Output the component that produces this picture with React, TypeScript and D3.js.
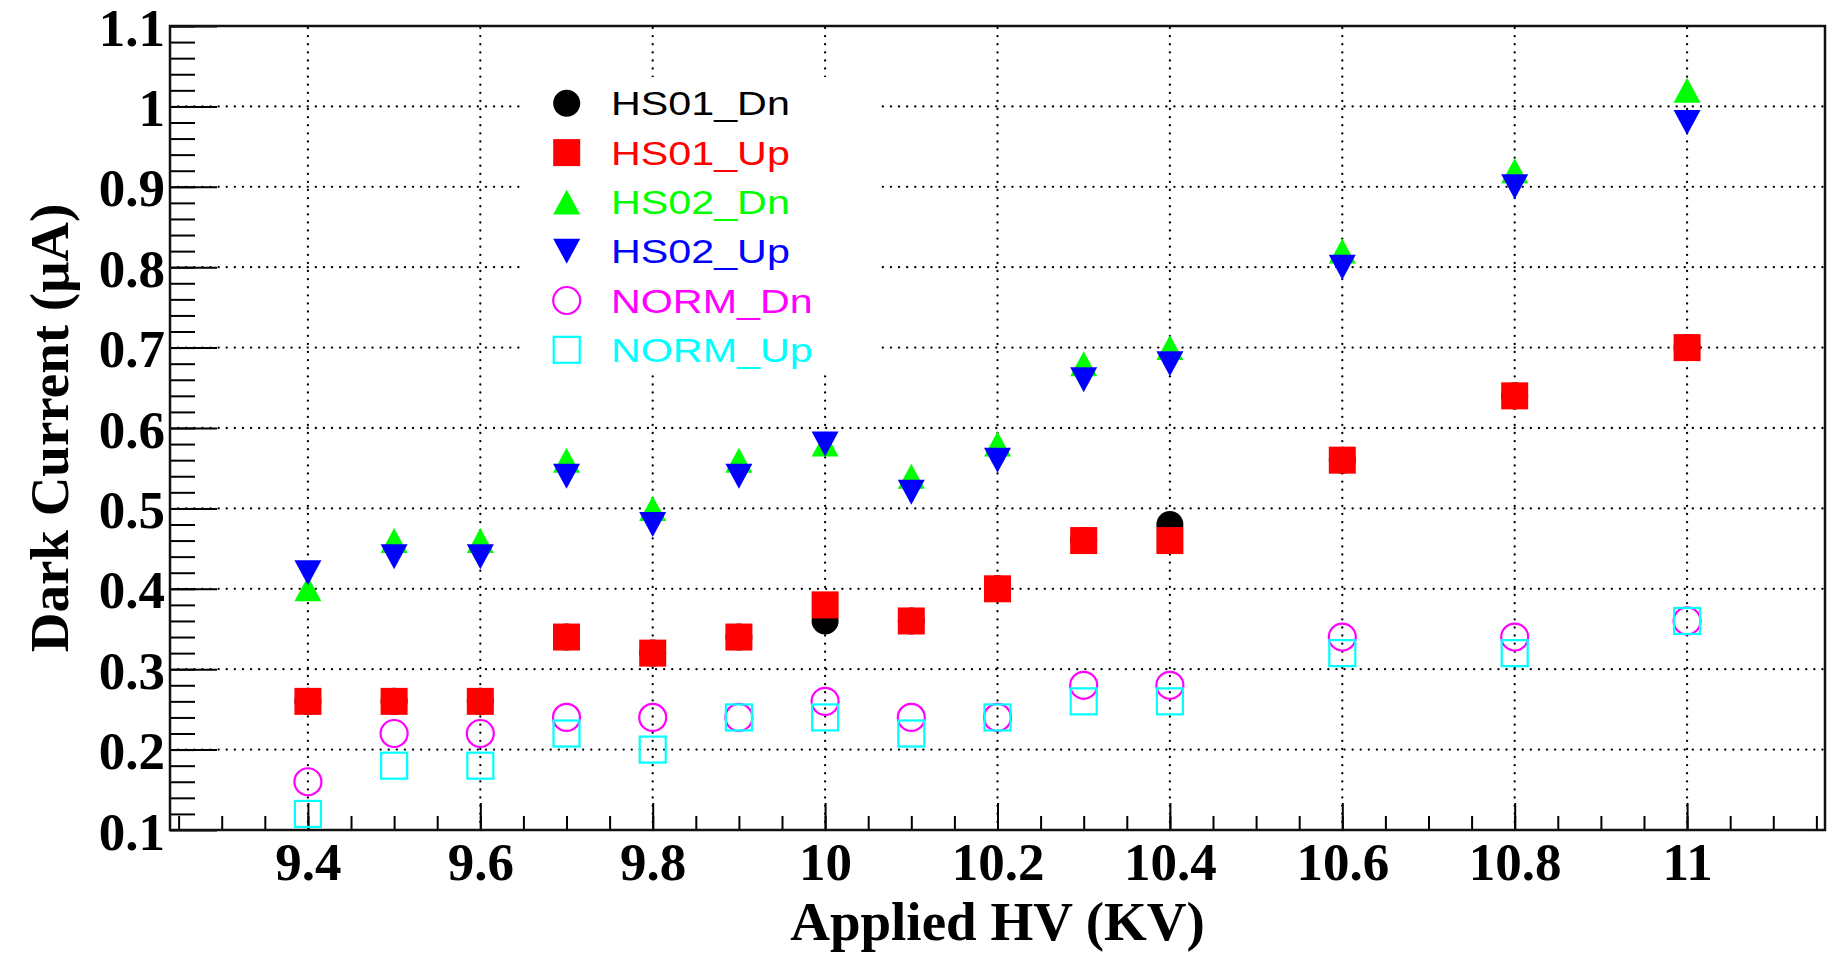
import { useEffect, useRef } from 'react'
import * as d3 from 'd3'

// Applied HV (KV) for every measured point
const hv = [9.4, 9.5, 9.6, 9.7, 9.8, 9.9, 10, 10.1, 10.2, 10.3, 10.4, 10.6, 10.8, 11]

// dark current (uA)
const hs01Dn = [0.26, 0.26, 0.26, 0.34, 0.32, 0.34, 0.36, 0.36, 0.40, 0.46, 0.48, 0.56, 0.64, 0.70]
const hs01Up = [0.26, 0.26, 0.26, 0.34, 0.32, 0.34, 0.38, 0.36, 0.40, 0.46, 0.46, 0.56, 0.64, 0.70]
const hs02Dn = [0.40, 0.46, 0.46, 0.56, 0.50, 0.56, 0.58, 0.54, 0.58, 0.68, 0.70, 0.82, 0.92, 1.02]
const hs02Up = [0.42, 0.44, 0.44, 0.54, 0.48, 0.54, 0.58, 0.52, 0.56, 0.66, 0.68, 0.80, 0.90, 0.98]
const normDn = [0.16, 0.22, 0.22, 0.24, 0.24, 0.24, 0.26, 0.24, 0.24, 0.28, 0.28, 0.34, 0.34, 0.36]
const normUp = [0.12, 0.18, 0.18, 0.22, 0.20, 0.24, 0.24, 0.22, 0.24, 0.26, 0.26, 0.32, 0.32, 0.36]

const xTicks = [9.4, 9.6, 9.8, 10, 10.2, 10.4, 10.6, 10.8, 11]
const yTicks = [0.1, 0.2, 0.3, 0.4, 0.5, 0.6, 0.7, 0.8, 0.9, 1, 1.1]

const xTitle = 'Applied HV (KV)'
const yTitle = 'Dark Current (\u03BCA)'

const series = [
  { name: 'HS01_Dn', values: hs01Dn, color: '#000000', shape: 'dot' },
  { name: 'HS01_Up', values: hs01Up, color: '#ff0000', shape: 'square' },
  { name: 'HS02_Dn', values: hs02Dn, color: '#00ff00', shape: 'triUp' },
  { name: 'HS02_Up', values: hs02Up, color: '#0000ff', shape: 'triDown' },
  { name: 'NORM_Dn', values: normDn, color: '#ff00ff', shape: 'ring' },
  { name: 'NORM_Up', values: normUp, color: '#00ffff', shape: 'box' },
]

const W = 1832
const H = 953
const SERIF = '"Liberation Serif", "Times New Roman", serif'
const SANS = '"Liberation Sans", Arial, sans-serif'

function marker(g: any, shape: string, color: string, cx: number, cy: number) {
  const s = 13.5
  if (shape === 'dot') {
    g.append('circle').attr('cx', cx).attr('cy', cy).attr('r', s).attr('fill', color)
  } else if (shape === 'square') {
    g.append('rect').attr('x', cx - s).attr('y', cy - s).attr('width', 2 * s).attr('height', 2 * s)
      .attr('fill', color)
  } else if (shape === 'triUp' || shape === 'triDown') {
    const d = shape === 'triUp' ? 1 : -1
    const h = 12.5
    g.append('path')
      .attr('d', `M${cx - s},${cy + d * h}L${cx + s},${cy + d * h}L${cx},${cy - d * h}Z`)
      .attr('fill', color)
  } else if (shape === 'ring') {
    g.append('circle').attr('cx', cx).attr('cy', cy).attr('r', 13.5)
      .attr('fill', 'none').attr('stroke', color).attr('stroke-width', 2.2)
  } else {
    g.append('rect').attr('x', cx - 13).attr('y', cy - 13).attr('width', 26).attr('height', 26)
      .attr('fill', 'none').attr('stroke', color).attr('stroke-width', 2.2)
  }
}

export default function App() {
  const svgRef = useRef<SVGSVGElement>(null)

  useEffect(() => {
    const margin = { top: 26, right: 7, bottom: 123, left: 170 }
    const innerW = W - margin.left - margin.right
    const innerH = H - margin.top - margin.bottom

    const x = d3.scaleLinear().domain([9.24, 11.16]).range([0, innerW])
    const y = d3.scaleLinear().domain([0.1, 1.1]).range([innerH, 0])
    const fmt = (v: number) => String(+v.toFixed(2))

    const svg = d3.select(svgRef.current)
    svg.selectAll('*').remove()
    svg.append('rect').attr('width', W).attr('height', H).attr('fill', '#fff')

    const g = svg.append('g').attr('transform', `translate(${margin.left},${margin.top})`)

    // dotted grid at the major ticks
    const grid = g.append('g').attr('stroke', '#000').attr('stroke-width', 2.3)
      .attr('stroke-linecap', 'round').attr('stroke-dasharray', '0.1,8')
    xTicks.forEach((t) => {
      grid.append('line').attr('x1', x(t)).attr('x2', x(t)).attr('y1', innerH).attr('y2', 0)
    })
    yTicks.filter((t) => t > 0.15 && t < 1.05).forEach((t) => {
      grid.append('line').attr('x1', 0).attr('x2', innerW).attr('y1', y(t)).attr('y2', y(t))
    })

    // x axis: majors every 0.2, minors every 0.05
    g.append('g')
      .attr('transform', `translate(0,${innerH})`)
      .call(d3.axisBottom(x).tickValues(d3.range(9.25, 11.16, 0.05)).tickSize(-14).tickFormat(() => ''))
      .call((ax) => ax.select('.domain').remove())
      .call((ax) => ax.selectAll('.tick line').attr('stroke', '#000').attr('stroke-width', 2))
    g.append('g')
      .attr('transform', `translate(0,${innerH})`)
      .call(d3.axisBottom(x).tickValues(xTicks).tickSize(-27).tickFormat((d) => fmt(+d)))
      .call((ax) => ax.select('.domain').remove())
      .call((ax) => ax.selectAll('.tick line').attr('stroke', '#000').attr('stroke-width', 2))
      .call((ax) => ax.selectAll('text').attr('fill', '#000').attr('font-size', 53)
        .attr('font-weight', 'bold').attr('font-family', SERIF).attr('dy', 0).attr('y', 50))

    // y axis: majors every 0.1, minors every 0.02
    g.append('g')
      .call(d3.axisLeft(y).tickValues(d3.range(0.12, 1.1, 0.02)).tickSize(-25).tickFormat(() => ''))
      .call((ax) => ax.select('.domain').remove())
      .call((ax) => ax.selectAll('.tick line').attr('stroke', '#000').attr('stroke-width', 2))
    g.append('g')
      .call(d3.axisLeft(y).tickValues(yTicks).tickSize(-47).tickFormat((d) => fmt(+d)))
      .call((ax) => ax.select('.domain').remove())
      .call((ax) => ax.selectAll('.tick line').attr('stroke', '#000').attr('stroke-width', 2))
      .call((ax) => ax.selectAll('text').attr('fill', '#000').attr('font-size', 53)
        .attr('font-weight', 'bold').attr('font-family', SERIF)
        .attr('x', -5).attr('dy', 19))

    // markers, drawn in series order so later series sit on top
    const pts = g.append('g')
    series.forEach((s) => {
      s.values.forEach((v, i) => marker(pts, s.shape, s.color, x(hv[i]), y(v)))
    })

    // frame
    g.append('rect').attr('width', innerW).attr('height', innerH)
      .attr('fill', 'none').attr('stroke', '#111').attr('stroke-width', 2.5)

    // legend
    const lg = svg.append('g').attr('transform', 'translate(522,77)')
    lg.append('rect').attr('width', 356).attr('height', 296).attr('fill', '#fff')
    series.forEach((s, i) => {
      const cy = 26.3 + i * 49.3
      marker(lg, s.shape, s.color, 44.7, cy)
      lg.append('text')
        .attr('transform', `translate(89,${cy + 12}) scale(1.25,1)`)
        .attr('fill', s.color).attr('font-size', 33).attr('font-family', SANS)
        .text(s.name)
    })

    // titles
    svg.append('text')
      .attr('x', margin.left + innerW / 2).attr('y', 940)
      .attr('text-anchor', 'middle').attr('font-size', 55).attr('font-weight', 'bold')
      .attr('font-family', SERIF).attr('fill', '#000').text(xTitle)
    svg.append('text')
      .attr('transform', `translate(68,${margin.top + innerH / 2}) rotate(-90)`)
      .attr('text-anchor', 'middle').attr('font-size', 55).attr('font-weight', 'bold')
      .attr('font-family', SERIF).attr('fill', '#000').text(yTitle)

    return () => { svg.selectAll('*').remove() }
  }, [])

  return (
    <div style={{ position: 'absolute', left: 0, top: 0, width: W, height: H }}>
      <svg ref={svgRef} width={W} height={H} style={{ display: 'block' }} />
    </div>
  )
}
